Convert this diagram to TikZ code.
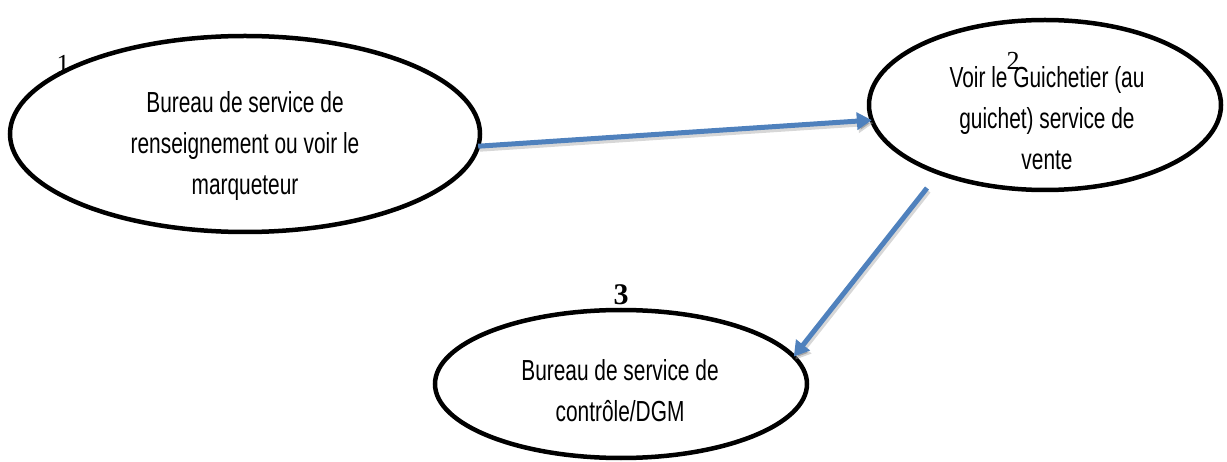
\documentclass[tikz,border=0pt]{standalone}
\usepackage{fontspec}
\setmainfont{Liberation Serif}
\newfontfamily\labelfont[FakeStretch=0.72]{Liberation Sans}
\usetikzlibrary{shapes.geometric,arrows.meta}
\definecolor{flowblue}{HTML}{4F81BD}
\begin{document}
\begin{tikzpicture}[x=1pt,y=-1pt,
  oval/.style={ellipse, draw=black, line width=4.5pt, inner sep=0pt, outer sep=0pt},
  caption/.style={align=center, font=\labelfont\fontsize{29}{41}\selectfont, inner sep=0pt},
  num/.style={font=\fontsize{26}{26}\selectfont, inner sep=0pt},
  flowtip/.style={-{Triangle[length=15pt,width=17pt]}},
  flow/.style={draw=flowblue, line width=5pt, flowtip},
  flowshadow/.style={draw=black!35, draw opacity=0.45, line width=5pt, flowtip}]
\useasboundingbox (0,0) rectangle (1227,462);

% the three stations
\node[oval, minimum width=470pt, minimum height=196pt] (e1) at (245,134) {};
\node[oval, minimum width=352pt, minimum height=170pt] (e2) at (1045,105) {};
\node[oval, minimum width=372pt, minimum height=148pt] (e3) at (621,384) {};

\node[caption] (t1) at (245,146) {Bureau de service de\\renseignement ou voir le\\marqueteur};
\node[caption] (t2) at (1047,118) {Voir le Guichetier (au\\guichet) service de\\vente};
\node[caption] (t3) at (620,391) {Bureau de service de\\contrôle/DGM};

% step numbers
\node[num] (n1) at (63,64) {1};
\node[num] (n2) at (1013,61) {2};
\node[num, font=\bfseries\fontsize{30}{30}\selectfont] (n3) at (621,295) {3};

% flow arrows with a soft drop shadow
\path (e2.center) ++(-118,83) coordinate (s2);
\draw[flowshadow] ([shift={(1.5,3)}]e1.-3) -- ([shift={(1.5,3)}]e2.185.5);
\draw[flowshadow] ([shift={(1.5,3)}]s2) -- ([shift={(1.5,3)}]e3.9.5);
\draw[flow] (e1.-3) -- (e2.185.5);
\draw[flow] (s2) -- (e3.9.5);
\end{tikzpicture}
\end{document}
